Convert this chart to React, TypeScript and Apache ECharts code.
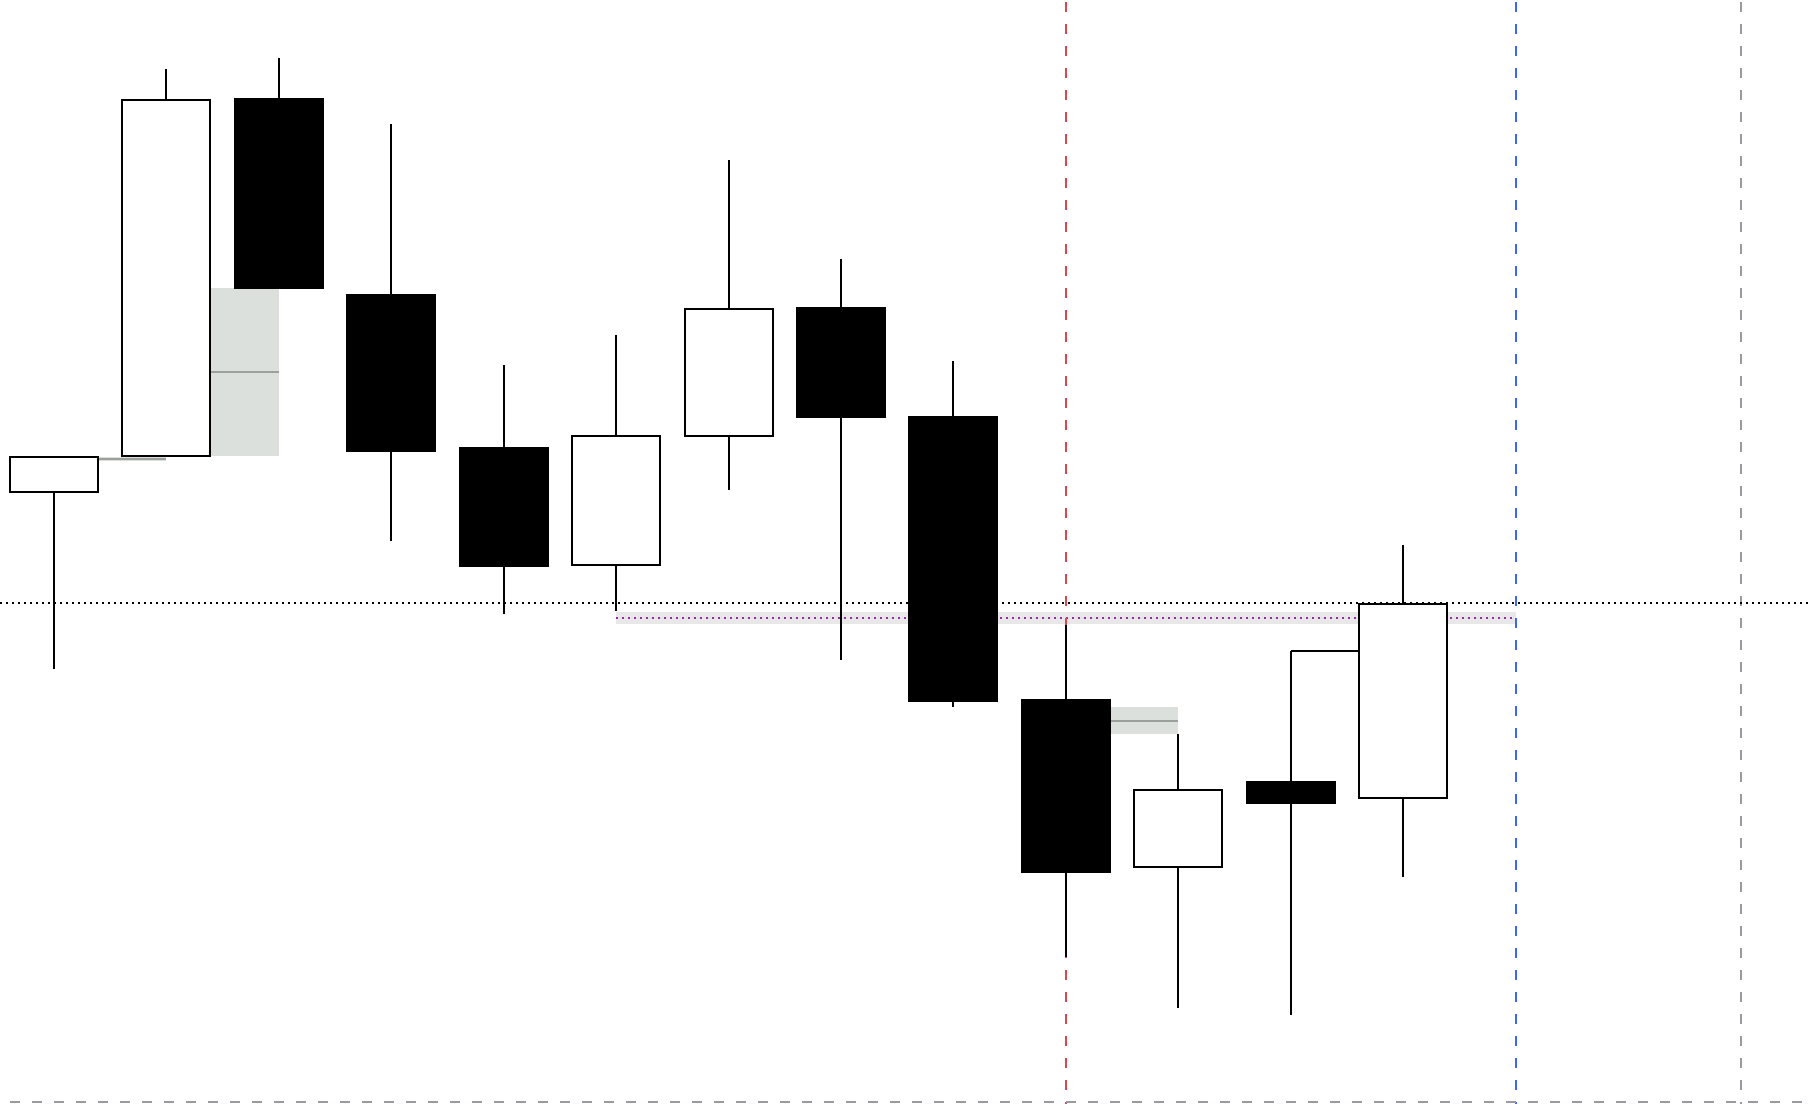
import React, { useEffect, useRef } from 'react';
import * as echarts from 'echarts';

// ---- candle data (index on x, price on y) ----
const candleX = [0, 1, 2, 3, 4, 5, 6, 7, 8, 9, 10, 11, 12];
const opens = [61.19, 64.81, 100.51, 80.9, 65.61, 53.92, 66.76, 79.61, 68.72, 40.39, 23.7, 32.19, 30.64];
const closes = [64.75, 100.44, 81.56, 65.3, 53.85, 66.76, 79.54, 68.72, 40.35, 23.23, 31.44, 30.1, 50.03];
const lows = [43.52, 64.81, 81.56, 56.33, 49.03, 49.33, 61.44, 44.42, 39.75, 14.67, 9.64, 8.92, 22.73];
const highs = [64.75, 103.51, 104.61, 98.01, 73.9, 76.9, 94.36, 84.51, 74.3, 47.95, 37.03, 45.3, 55.9];

// ---- gap bands ----
const fvgStartX = [0, 1, 9];
const fvgEndX = [1, 2, 10];
const fvgTop = [64.73, 81.57, 39.7];
const fvgBottom = [64.33, 64.83, 37.03];

// ---- zone band ----
const zoneStartX = [5];
const zoneEndX = [13];
const zoneTop = [49.2];
const zoneBottom = [48.03];

// ---- levels and markers ----
const priceLevel = 50.13;
const sweepLevel = 45.3;
const sweepFromX = 11;
const sweepToX = 12;
const redMarkerX = 9;
const blueMarkerX = 13;
const grayMarkerX = 15;
const baseLevel = 0.2;
const baseStartX = -0.3915;

const xMin = -0.48;
const xMax = 15.6;
const yMin = 0;
const yMax = 110.4;
const lineTopY = 110.2;

const bodyRatio = 0.783;
const LW = 2;

const r = (v: number) => Math.round(v);

function candleRenderer(params: any, api: any) {
  const x = api.value(0);
  const o = api.value(1);
  const c = api.value(2);
  const l = api.value(3);
  const h = api.value(4);
  const po = api.coord([x, o]);
  const cx = r(po[0]);
  const yo = r(po[1]);
  const yc = r(api.coord([x, c])[1]);
  const yl = r(api.coord([x, l])[1]);
  const yh = r(api.coord([x, h])[1]);
  const top = Math.min(yo, yc);
  const bottom = Math.max(yo, yc);
  const half = r((api.size([bodyRatio, 0])[0]) / 2);
  const up = c >= o;
  const stroke = { stroke: '#000000', lineWidth: LW };
  const children: any[] = [];
  if (yh < top) children.push({ type: 'line', shape: { x1: cx, y1: yh, x2: cx, y2: top }, style: stroke });
  if (yl > bottom) children.push({ type: 'line', shape: { x1: cx, y1: bottom, x2: cx, y2: yl }, style: stroke });
  children.push({
    type: 'rect',
    shape: { x: cx - half, y: top, width: half * 2, height: Math.max(bottom - top, 1) },
    style: { fill: up ? '#ffffff' : '#000000', stroke: '#000000', lineWidth: LW },
  });
  return { type: 'group', children };
}

function bandRenderer(fill: string, midStroke: string, midDash: number[] | null) {
  return (params: any, api: any) => {
    const p0 = api.coord([api.value(0), api.value(2)]);
    const p1 = api.coord([api.value(1), api.value(3)]);
    const x0 = r(p0[0]);
    const x1 = r(p1[0]);
    const y0 = r(p0[1]);
    const y1 = r(p1[1]);
    const midY = r((y0 + y1) / 2);
    const lineStyle: any = { stroke: midStroke, lineWidth: LW };
    if (midDash) lineStyle.lineDash = midDash;
    return {
      type: 'group',
      children: [
        { type: 'rect', shape: { x: x0, y: y0, width: x1 - x0, height: y1 - y0 }, style: { fill } },
        { type: 'line', shape: { x1: x0, y1: midY, x2: x1, y2: midY }, style: lineStyle },
      ],
    };
  };
}

function segmentSeries(seg: number[], color: string, dash: number[] | null, z: number) {
  return {
    type: 'custom',
    silent: true,
    z,
    data: [seg],
    encode: { x: [0, 2], y: [1, 3] },
    renderItem: (params: any, api: any) => {
      const p1 = api.coord([api.value(0), api.value(1)]);
      const p2 = api.coord([api.value(2), api.value(3)]);
      const style: any = { stroke: color, lineWidth: LW };
      if (dash) style.lineDash = dash;
      return {
        type: 'line',
        shape: { x1: r(p1[0]), y1: r(p1[1]), x2: r(p2[0]), y2: r(p2[1]) },
        style,
      };
    },
  };
}

export default function App() {
  const ref = useRef<HTMLDivElement>(null);

  useEffect(() => {
    document.body.style.margin = '0';
    document.body.style.overflow = 'hidden';
    if (!ref.current) return;
    const chart = echarts.init(ref.current, null, { renderer: 'svg' });

    const candleData = candleX.map((x, i) => [x, opens[i], closes[i], lows[i], highs[i]]);
    const fvgData = fvgStartX.map((x, i) => [x, fvgEndX[i], fvgTop[i], fvgBottom[i]]);
    const zoneData = zoneStartX.map((x, i) => [x, zoneEndX[i], zoneTop[i], zoneBottom[i]]);

    chart.setOption({
      animation: false,
      backgroundColor: '#ffffff',
      grid: { left: 0, right: 0, top: 0, bottom: 0 },
      xAxis: {
        type: 'value',
        min: xMin,
        max: xMax,
        show: false,
        splitLine: { show: false },
      },
      yAxis: {
        type: 'value',
        min: yMin,
        max: yMax,
        show: false,
        splitLine: { show: false },
      },
      series: [
        {
          type: 'custom',
          name: 'gaps',
          z: 1,
          silent: true,
          encode: { x: [0, 1], y: [2, 3] },
          renderItem: bandRenderer('#dce0dc', '#9ca09c', null),
          data: fvgData,
        },
        {
          type: 'custom',
          name: 'zone',
          z: 1,
          silent: true,
          encode: { x: [0, 1], y: [2, 3] },
          renderItem: bandRenderer('#e8e8e8', '#9c27b0', [2, 4]),
          data: zoneData,
        },
        segmentSeries([redMarkerX, lineTopY, redMarkerX, yMin], '#dc4650', [10, 12], 2),
        segmentSeries([blueMarkerX, lineTopY, blueMarkerX, yMin], '#3b66ff', [10, 12], 2),
        segmentSeries([grayMarkerX, lineTopY, grayMarkerX, yMin], '#9a9aa0', [10, 12], 2),
        segmentSeries([sweepFromX, sweepLevel, sweepToX, sweepLevel], '#000000', null, 2),
        {
          type: 'custom',
          name: 'candles',
          z: 3,
          silent: true,
          encode: { x: 0, y: [1, 2, 3, 4] },
          renderItem: candleRenderer,
          data: candleData,
        },
        segmentSeries([xMin, priceLevel, xMax, priceLevel], '#000000', [2, 4], 4),
        segmentSeries([baseStartX, baseLevel, xMax, baseLevel], '#9a9aa0', [10, 12], 4),
      ],
    });

    return () => {
      chart.dispose();
    };
  }, []);

  return <div ref={ref} style={{ width: 1808, height: 1104 }} />;
}
